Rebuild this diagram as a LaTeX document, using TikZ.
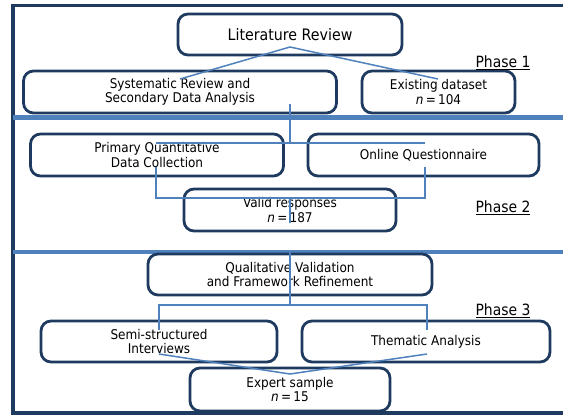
\documentclass[tikz,border=0pt]{standalone}
\usepackage{fontspec}
\setmainfont{DejaVu Sans Condensed}
\usetikzlibrary{calc}
\begin{document}
\begin{tikzpicture}[x=1pt,y=-1pt,
  every node/.style={inner sep=0pt, outer sep=0pt},
  stage/.style={draw=navy, line width=2.8pt, rounded corners=10pt, fill=white,
    align=center, font=\fontsize{13.4}{14.2}\selectfont},
  link/.style={draw=linkblue, line width=1.5pt},
  divider/.style={draw=linkblue, line width=4.5pt},
  phase/.style={font=\fontsize{15.5}{17}\selectfont}]
\definecolor{navy}{HTML}{1F3A5F}
\definecolor{linkblue}{HTML}{4F81BD}
\useasboundingbox (0,0) rectangle (563,416);

% outer frame (open on the right)
\draw[draw=navy, line width=3.5pt] (563,5.5) -- (13,5.5) -- (13,413) -- (563,413);

% phase dividers
\draw[divider] (13,117.5) -- (563,117.5);
\draw[divider] (13,252) -- (563,252);

% Phase 1
\node[stage, minimum width=224pt, minimum height=41pt, font=\fontsize{15.8}{17}\selectfont] (lit) at (290,34.5) {Literature Review};
\node[stage, minimum width=313pt, minimum height=42pt] (sys) at (180,92) {Systematic Review and\\Secondary Data Analysis};
\node[stage, minimum width=153pt, minimum height=42pt] (exist) at (438.5,92) {Existing dataset\\\textit{n}\,=\,104};

% Phase 2
\node[stage, minimum width=253pt, minimum height=42pt] (prim) at (157,155) {Primary Quantitative\\Data Collection};
\node[stage, minimum width=231pt, minimum height=42pt] (online) at (423.5,155) {Online Questionnaire};
\node[stage, minimum width=212pt, minimum height=42pt] (valid) at (290,210) {Valid responses\\\textit{n}\,=\,187};

% Phase 3
\node[stage, minimum width=284pt, minimum height=41pt] (qual) at (290,274.5) {Qualitative Validation\\and Framework Refinement};
\node[stage, minimum width=236pt, minimum height=41pt] (semi) at (159,341.5) {Semi-structured\\Interviews};
\node[stage, minimum width=248pt, minimum height=41pt] (them) at (426,341.5) {Thematic Analysis};
\node[stage, minimum width=200pt, minimum height=43pt] (expert) at (290,389.5) {Expert sample\\\textit{n}\,=\,15};

% phase labels
\node[phase] (ph1) at (503,63) {\underline{Phase 1}};
\node[phase] (ph2) at (503,208) {\underline{Phase 2}};
\node[phase] (ph3) at (503,311) {\underline{Phase 3}};

% connector end points
\coordinate (litfork) at ($(lit.center)+(0,12.5)$);
\coordinate (sysin) at (180,79);
\coordinate (existin) at (438,79);
\coordinate (sysout) at (290,104);
\coordinate (splitA) at (290,143);
\coordinate (splitL) at (156,143);
\coordinate (splitR) at (425,143);
\coordinate (primout) at (156,167);
\coordinate (onlineout) at (425,167);
\coordinate (joinL) at (156,198);
\coordinate (joinR) at (425,198);
\coordinate (joinM) at (290,198);
\coordinate (validin) at (290,223);
\coordinate (qualtop) at (290,252);
\coordinate (qualfork) at (290,305);
\coordinate (forkL) at (159,305);
\coordinate (forkR) at (427,305);
\coordinate (semiin) at (159,330);
\coordinate (themin) at (427,330);
\coordinate (semiout) at (159,354);
\coordinate (themout) at (427,354);
\coordinate (expertin) at (290,374);

% connectors
\draw[link] (sysin) -- (litfork) -- (existin);
\draw[link] (sysout) -- (splitA);
\draw[link] (splitL) -- (splitR);
\draw[link] (primout) -- (joinL) -- (joinR) -- (onlineout);
\draw[link] (joinM) -- (validin);
\draw[link] (qualtop) -- (qualfork);
\draw[link] (semiin) -- (forkL) -- (forkR) -- (themin);
\draw[link] (semiout) -- (expertin) -- (themout);
\end{tikzpicture}
\end{document}
